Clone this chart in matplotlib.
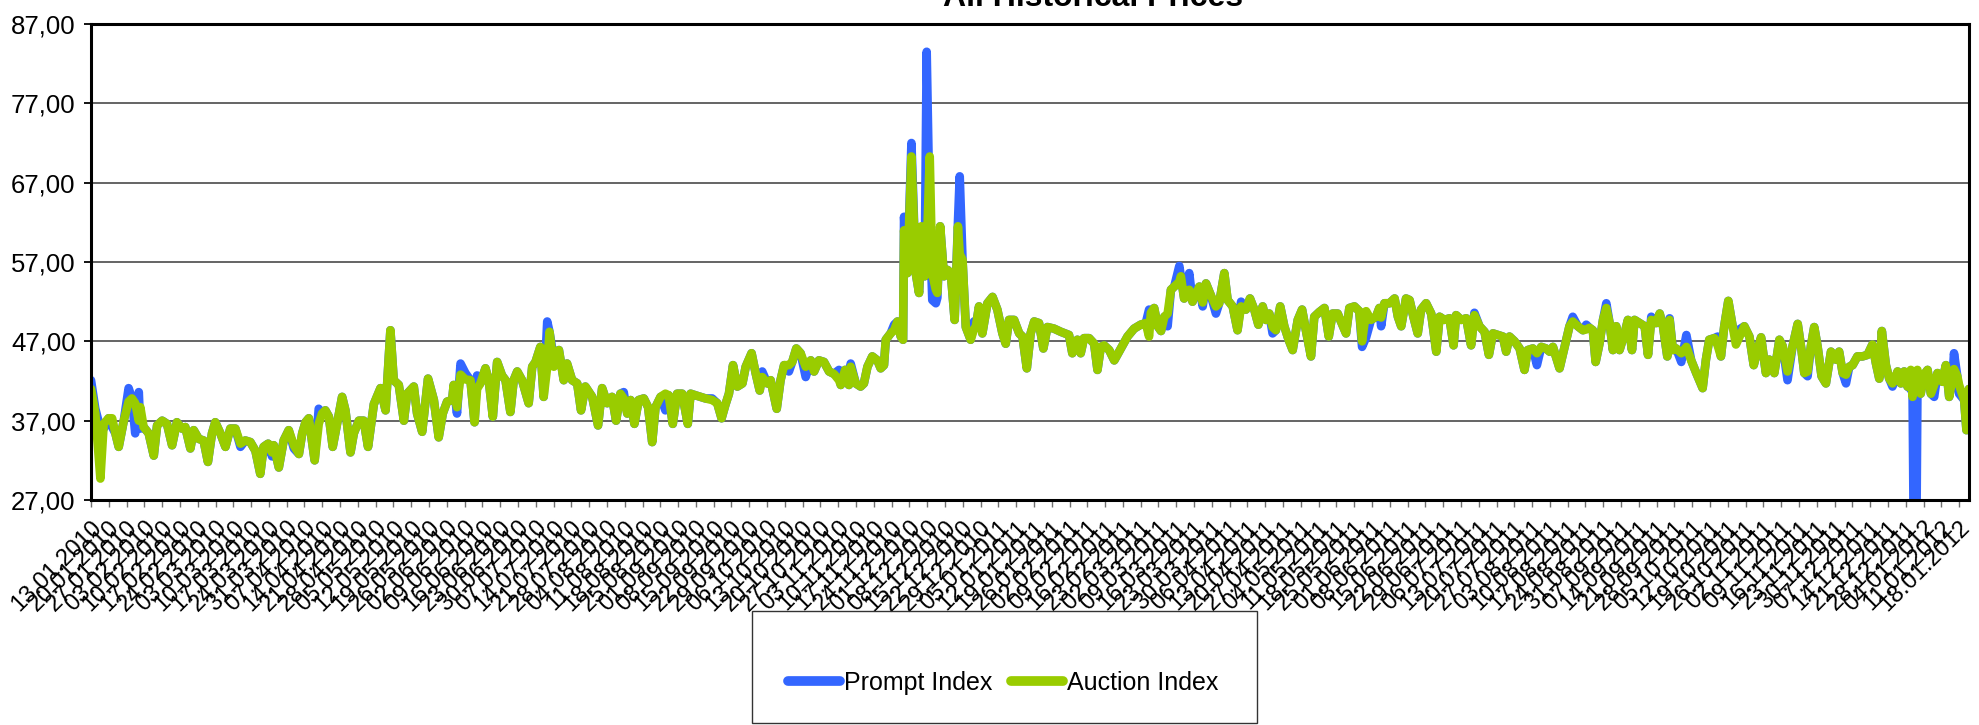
import matplotlib
matplotlib.use("Agg")
import matplotlib.pyplot as plt
import numpy as np
import pandas as pd
from matplotlib.patches import Rectangle

plt.rcParams['font.family'] = ['Liberation Sans', 'DejaVu Sans']

# ---------------- data ----------------
start_date = "2010-01-13"
# observation day (days since 13.01.2010)
obs_day = [
    # Jan - May 2010
    0, 1.7, 3.7, 5.0, 6.9, 8.3, 9.6, 10.9, 12.9, 14.8,
    16.1, 17.4, 18.8, 19.4, 20.7, 22.7, 24.7, 26.0, 28.0, 29.9,
    31.9, 33.8, 35.8, 37.1, 39.1, 40.4, 42.4, 44.3, 46.0, 47.6,
    48.9, 50.9, 52.9, 54.8, 56.8, 58.8, 60.7, 62.7, 64.7, 66.6,
    67.9, 69.7, 71.2, 71.9, 73.9, 75.8, 77.8, 79.8, 81.8, 83.1,
    84.4, 85.7, 88.0, 89.6, 90.9, 92.2, 93.6, 95.1, 96.8, 98.8,
    100.1, 102.1, 103.4, 105.4, 107.3, 109.0, 111.3, 113.9, 115.9, 117.8,
    119.1, 121.1, 123.1, 124.4, 127.0,
    # May - Sep 2010
    128.3, 130.3, 132.6, 134.9, 136.8, 138.4, 140.1, 142.1, 142.7, 144.0,
    145.4, 147.3, 149.3, 150.9, 151.9, 153.2, 155.2, 156.5, 158.1, 159.8,
    161.7, 163.1, 165.0, 166.3, 167.7, 169.6, 172.2, 173.6, 174.9, 176.8,
    178.1, 179.5, 180.4, 182.1, 184.1, 186.0, 187.3, 189.3, 191.3, 192.8,
    194.5, 197.2, 199.5, 201.1, 203.1, 205.0, 206.6, 208.3, 209.6, 211.0,
    212.3, 213.8, 215.5, 217.5, 219.2, 220.8, 222.1, 224.1, 226.0, 227.3,
    228.9, 230.6, 232.6, 234.8, 235.9, 237.8, 241.8, 244.4, 246.4, 248.1,
    249.6, 251.0, 252.6,
    # Sep - Nov 2010
    254.3, 256.3, 257.6, 259.9, 261.5, 263.1, 264.1, 266.1, 267.4, 269.8,
    271.3, 272.7, 274.6, 275.9, 277.5, 279.2, 281.2, 283.2, 284.5, 286.4,
    288.4, 290.4, 292.3, 294.3, 295.0, 296.7, 298.2,
    # Nov 2010 - Mar 2011
    298.9, 300.9, 302.8, 304.1, 305.5, 307.4, 309.4, 310.7, 312.0, 312.7,
    314.6, 316.0, 317.3, 318.6, 319.5, 319.9, 321.2, 322.8, 324.5, 325.8,
    326.7, 328.0, 328.8, 330.0, 331.0, 332.4, 333.0, 334.1, 335.6, 337.0,
    338.3, 339.8, 341.1, 341.8, 342.9, 344.2, 346.1, 347.4, 348.1, 349.4,
    350.7, 352.7, 354.7, 356.6, 358.6, 359.9, 361.2, 363.2, 365.2, 366.5,
    368.2, 369.7, 371.1, 373.0, 374.7, 376.3, 378.9, 381.6, 384.8, 386.1,
    388.1, 389.4, 390.7, 392.7, 394.7, 396.0, 397.3, 398.6, 400.6, 402.6,
    405.2, 407.8, 410.4, 413.0, 415.0, 416.3, 417.0,
    # Mar - Jun 2011
    418.3, 419.7, 421.0, 422.3, 423.6, 424.9, 426.2, 428.2, 428.8, 430.1,
    432.1, 433.4, 434.7, 436.1, 437.4, 438.7, 440.6, 442.6, 443.9, 445.9,
    447.2, 449.2, 451.1, 452.5, 454.4, 456.0, 457.7, 459.3, 461.0, 462.3,
    463.6, 464.9, 466.2, 467.9, 469.5, 471.2, 472.8, 474.8, 476.5, 478.0,
    480.0, 481.3, 483.3, 485.3, 487.0, 488.5, 490.5, 491.8, 493.8, 495.1,
    497.1, 499.0, 500.1, 501.7, 503.6, 505.6,
    # Jun - Oct 2011
    506.9, 507.6, 508.9, 510.9, 512.9, 514.2, 515.5, 517.4, 518.8, 520.3,
    522.0, 523.3, 525.3, 527.3, 529.3, 530.6, 532.5, 534.5, 536.1, 537.1,
    539.1, 541.1, 543.0, 544.3, 546.3, 548.3, 550.0, 551.6, 553.5, 555.5,
    556.8, 558.1, 560.1, 562.1, 564.0, 565.3, 567.3, 568.9, 570.6, 572.5,
    573.9, 575.2, 577.8, 579.8, 581.7, 583.0, 585.0, 587.0, 588.3, 589.6,
    590.9, 592.0, 593.5, 594.9, 596.2, 597.5, 598.8, 600.1, 601.4, 603.4,
    604.7, 606.3, 607.3, 609.3, 611.3, 612.6, 613.9, 615.8, 617.2, 618.5,
    620.2, 621.1, 622.4, 623.7, 625.7, 627.7, 629.6, 631.6,
    # Oct 2011 - Jan 2012
    634.1, 635.4, 636.7, 638.7, 640.0, 641.3, 642.6, 644.2, 645.9, 647.2,
    648.5, 650.5, 652.5, 654.2, 655.7, 657.1, 659.0, 660.3, 662.3, 664.3,
    665.6, 667.5, 669.5, 671.5, 673.0, 674.1, 675.4, 676.7, 678.0, 679.3,
    680.9, 682.6, 684.6, 686.5, 687.8, 689.2, 690.5, 691.8, 693.1, 695.0,
    697.0, 699.0, 700.9, 702.3, 703.6, 704.6, 706.2, 707.5, 708.8, 710.8,
    712.1, 713.4, 714.7, 716.0, 716.7, 717.7, 718.6, 719.9, 721.2, 722.6,
    723.9, 725.2, 726.5, 728.4, 729.8, 731.1, 732.4, 733.0, 734.3, 735.0,
    737.0, 737.9, 738.9,
]

prompt_index = [
    42.1, 38.5, 36.0, 36.0, 37.3, 36.2, 35.4, 33.7, 37.0, 41.1,
    39.8, 35.4, 40.6, 36.0, 36.2, 35.4, 32.6, 36.4, 37.0, 36.6,
    33.9, 36.8, 36.0, 36.2, 33.5, 35.8, 34.7, 34.5, 31.8, 35.4,
    36.8, 35.4, 33.7, 36.0, 36.0, 33.7, 34.5, 34.3, 33.2, 30.3,
    33.7, 34.1, 32.5, 33.9, 31.1, 34.5, 35.8, 33.5, 32.8, 35.4,
    36.8, 37.3, 32.0, 38.5, 37.9, 38.3, 37.5, 33.7, 36.6, 40.0,
    38.3, 33.0, 35.4, 37.0, 37.0, 33.7, 39.1, 41.1, 38.3, 48.4,
    42.1, 41.5, 37.0, 40.4, 41.3,
    37.9, 35.6, 42.3, 39.6, 34.9, 37.9, 39.4, 39.6, 41.5, 37.9,
    44.2, 43.0, 42.1, 36.8, 42.7, 41.7, 43.6, 42.1, 37.5, 44.4,
    42.7, 42.1, 38.1, 42.1, 43.2, 42.1, 39.2, 43.8, 44.4, 46.3,
    40.0, 49.5, 48.2, 44.8, 45.9, 42.1, 44.2, 42.1, 41.7, 38.3,
    41.3, 40.0, 36.4, 41.1, 39.2, 40.0, 37.0, 40.4, 40.6, 37.9,
    39.6, 36.6, 39.6, 39.8, 38.7, 34.3, 38.7, 40.0, 38.3, 40.2,
    36.6, 40.4, 40.4, 36.6, 40.4, 40.2, 39.8, 39.8, 39.2, 37.3,
    39.0, 40.4, 44.0,
    41.3, 41.7, 43.8, 45.5, 43.0, 40.8, 43.2, 41.7, 42.1, 38.5,
    42.1, 44.0, 43.2, 44.4, 46.1, 45.5, 42.5, 44.6, 43.2, 44.6,
    44.4, 43.2, 42.9, 43.4, 41.5, 43.4, 41.5,
    44.2, 41.7, 41.3, 41.7, 43.8, 45.1, 44.6, 43.6, 44.0, 47.2,
    48.0, 49.1, 49.5, 47.6, 47.2, 62.7, 55.6, 72.0, 55.6, 53.1,
    58.5, 55.2, 83.5, 62.0, 52.2, 51.8, 52.5, 61.5, 55.2, 56.0,
    55.6, 49.7, 62.0, 67.8, 57.3, 48.8, 47.2, 49.5, 48.8, 51.4,
    48.0, 51.8, 52.6, 51.0, 48.0, 46.7, 49.7, 49.7, 48.0, 47.6,
    43.6, 48.0, 49.5, 49.3, 46.1, 48.8, 48.6, 48.2, 47.8, 45.5,
    47.2, 45.5, 47.4, 47.4, 46.7, 43.4, 46.3, 46.5, 45.9, 44.6,
    46.1, 47.6, 48.6, 49.1, 49.3, 51.0, 50.6,
    51.2, 48.9, 48.3, 50.1, 48.9, 53.5, 53.9, 56.5, 55.2, 52.4,
    55.6, 52.0, 53.0, 53.9, 51.4, 54.3, 52.8, 50.5, 51.8, 55.6,
    52.2, 51.4, 48.4, 52.0, 51.0, 52.4, 51.0, 49.1, 51.4, 49.7,
    50.5, 48.0, 48.4, 51.4, 48.9, 47.2, 45.9, 49.7, 51.0, 48.4,
    45.1, 50.1, 50.7, 51.2, 47.6, 50.5, 50.5, 49.5, 48.0, 51.2,
    51.4, 50.8, 46.3, 47.5, 49.7, 50.1,
    51.2, 48.9, 51.8, 51.8, 52.4, 50.1, 48.9, 52.4, 52.2, 50.1,
    48.0, 51.0, 51.8, 50.5, 45.7, 50.1, 49.7, 49.9, 46.5, 50.3,
    49.7, 49.9, 46.5, 50.6, 48.9, 48.2, 45.3, 48.0, 47.8, 47.6,
    45.7, 47.6, 47.0, 46.1, 43.4, 45.9, 46.1, 44.0, 46.3, 46.1,
    45.7, 46.3, 43.6, 46.3, 48.9, 50.1, 48.9, 48.4, 49.1, 48.7,
    48.4, 44.4, 46.7, 49.7, 51.8, 49.3, 45.9, 48.9, 45.9, 48.0,
    49.7, 45.9, 49.7, 49.3, 48.9, 45.3, 50.1, 49.3, 50.5, 48.9,
    45.1, 49.9, 45.9, 46.1, 44.4, 47.8, 44.6, 43.0,
    41.1, 44.7, 47.2, 47.4, 47.6, 45.1, 48.9, 52.1, 48.9, 47.5,
    48.5, 48.9, 47.6, 44.0, 45.9, 47.5, 43.0, 44.7, 43.0, 47.2,
    46.4, 42.1, 46.4, 49.2, 45.9, 43.0, 42.6, 46.4, 48.8, 46.4,
    42.6, 41.7, 45.7, 44.7, 45.7, 43.0, 41.7, 43.8, 44.0, 45.1,
    45.1, 45.3, 46.6, 44.2, 42.3, 48.3, 44.0, 42.3, 41.3, 43.2,
    41.7, 43.2, 41.3, 41.0, 40.5, 0.0, 40.4, 40.4, 42.8, 43.4,
    40.4, 40.0, 43.0, 41.9, 44.0, 40.0, 42.3, 45.5, 42.6, 40.4,
    39.6, 35.8, 41.0,
]

auction_index = [
    41.0, 37.9, 29.7, 36.6, 37.3, 37.3, 35.4, 33.7, 37.0, 39.4,
    39.8, 39.2, 37.0, 38.7, 36.2, 35.4, 32.6, 36.4, 37.0, 36.6,
    33.9, 36.8, 36.0, 36.2, 33.5, 35.8, 34.7, 34.5, 31.8, 35.4,
    36.8, 35.4, 33.7, 36.0, 36.0, 34.1, 34.5, 34.3, 33.2, 30.3,
    33.7, 34.1, 33.0, 33.9, 31.1, 34.5, 35.8, 33.9, 32.8, 35.4,
    36.8, 37.3, 32.0, 36.6, 37.9, 38.3, 37.5, 33.7, 36.6, 40.0,
    38.3, 33.0, 35.4, 37.0, 37.0, 33.7, 39.1, 41.1, 38.3, 48.4,
    42.1, 41.5, 37.0, 40.4, 41.3,
    37.9, 35.6, 42.3, 39.6, 34.9, 37.9, 39.4, 39.6, 41.5, 38.7,
    42.8, 42.2, 42.1, 36.8, 41.0, 41.7, 43.6, 42.1, 37.5, 44.4,
    42.7, 42.1, 38.1, 42.1, 43.2, 42.1, 39.2, 43.8, 44.4, 46.3,
    40.0, 43.8, 48.2, 43.8, 45.9, 42.1, 44.2, 42.1, 41.7, 38.3,
    41.3, 40.0, 36.4, 41.1, 39.2, 40.0, 37.0, 40.4, 39.8, 37.9,
    39.6, 36.6, 39.6, 39.8, 38.7, 34.3, 38.7, 40.0, 40.4, 40.2,
    36.6, 40.4, 40.4, 36.6, 40.4, 40.2, 39.8, 39.6, 39.2, 37.3,
    39.0, 40.4, 44.0,
    41.3, 41.7, 43.8, 45.5, 43.0, 40.8, 42.5, 41.7, 42.1, 38.5,
    42.1, 44.0, 44.0, 44.4, 46.1, 45.5, 43.8, 44.6, 43.2, 44.6,
    44.4, 43.2, 42.9, 42.1, 41.5, 43.4, 41.5,
    43.8, 41.7, 41.3, 41.7, 43.8, 45.1, 44.6, 43.6, 44.0, 47.2,
    48.0, 48.4, 49.5, 47.6, 47.2, 61.0, 55.6, 70.3, 55.6, 53.1,
    61.5, 55.2, 58.0, 70.3, 55.5, 53.5, 53.1, 61.5, 55.2, 56.0,
    55.6, 49.7, 61.5, 58.0, 57.3, 48.8, 47.2, 48.5, 48.8, 51.4,
    48.0, 51.8, 52.6, 51.0, 48.0, 46.7, 49.7, 49.7, 48.0, 47.6,
    43.6, 48.0, 49.5, 49.3, 46.1, 48.8, 48.6, 48.2, 47.8, 45.5,
    47.2, 45.5, 47.4, 47.4, 46.7, 43.4, 46.3, 46.5, 45.9, 44.6,
    46.1, 47.6, 48.6, 49.1, 49.3, 47.6, 50.6,
    51.2, 48.9, 48.3, 50.1, 50.5, 53.5, 53.9, 54.5, 55.2, 52.4,
    53.5, 52.0, 53.0, 53.9, 51.9, 54.3, 52.8, 51.4, 51.8, 55.6,
    52.2, 51.4, 48.4, 51.4, 51.0, 52.4, 51.0, 49.1, 51.4, 49.7,
    50.5, 48.8, 48.4, 51.4, 48.9, 47.2, 45.9, 49.7, 51.0, 48.4,
    45.1, 50.1, 50.7, 51.2, 47.6, 50.5, 50.5, 49.5, 48.0, 51.2,
    51.4, 50.8, 47.0, 50.8, 49.7, 50.1,
    51.2, 50.0, 51.8, 51.8, 52.4, 50.1, 48.9, 52.4, 52.2, 50.1,
    48.0, 51.0, 51.8, 50.5, 45.7, 50.1, 49.7, 49.9, 46.5, 50.3,
    49.7, 49.9, 46.5, 50.3, 48.9, 48.2, 45.3, 48.0, 47.8, 47.6,
    45.7, 47.6, 47.0, 46.1, 43.4, 45.9, 46.1, 45.5, 46.3, 46.1,
    45.7, 46.3, 43.6, 46.3, 48.9, 49.5, 48.9, 48.4, 48.5, 48.7,
    48.4, 44.4, 46.7, 49.7, 51.2, 49.3, 45.9, 48.9, 45.9, 48.0,
    49.7, 45.9, 49.7, 49.3, 48.9, 45.3, 49.7, 49.3, 50.5, 48.9,
    45.1, 49.7, 45.9, 46.1, 45.5, 46.3, 44.6, 43.0,
    41.1, 44.7, 47.2, 47.4, 46.5, 45.1, 48.9, 52.1, 48.9, 46.6,
    47.5, 48.9, 47.6, 44.0, 45.9, 47.5, 43.0, 44.7, 43.0, 47.2,
    46.4, 43.2, 46.4, 49.2, 45.9, 43.0, 43.2, 46.4, 48.8, 46.4,
    42.6, 41.7, 45.7, 44.7, 45.7, 43.0, 42.8, 43.8, 44.0, 45.1,
    45.1, 45.3, 46.6, 44.2, 42.3, 48.3, 44.0, 42.3, 41.7, 43.2,
    41.7, 43.2, 41.3, 43.4, 40.0, 42.5, 43.4, 40.4, 42.8, 43.4,
    40.4, 41.5, 43.0, 41.9, 44.0, 40.0, 42.3, 43.5, 42.6, 41.5,
    39.6, 35.8, 41.0,
]

assert len(obs_day) == len(prompt_index) == len(auction_index)

series_names = ["Prompt Index", "Auction Index"]
series_colors = ["#3366FF", "#99CC00"]
title_text = "All Historical Prices"
y_ticks = [27, 37, 47, 57, 67, 77, 87]
tick_dates = pd.date_range(start_date, "2012-01-18", freq="7D")
tick_labels = [d.strftime("%d.%m.%Y") for d in tick_dates]
tick_days = [(d - pd.Timestamp(start_date)).days for d in tick_dates]
x_end_day = 738.9

# ---------------- figure ----------------
W, H = 1979, 725
fig = plt.figure(figsize=(W / 100, H / 100), dpi=100)
L, R, T, B = 91, 1969, 24, 500
ax = fig.add_axes([L / W, 1 - B / H, (R - L) / W, (B - T) / H])

x = np.array(obs_day)
ax.plot(x, prompt_index, color=series_colors[0], lw=6.2, label=series_names[0],
        solid_joinstyle="round", solid_capstyle="round", zorder=3)
ax.plot(x, auction_index, color=series_colors[1], lw=6.2, label=series_names[1],
        solid_joinstyle="round", solid_capstyle="round", zorder=4)

ax.set_xlim(0, x_end_day)
ax.set_ylim(27, 87)
ax.set_yticks(y_ticks)
ax.set_yticklabels([f"{v:.2f}".replace(".", ",") for v in y_ticks], fontsize=18.5)
ax.yaxis.grid(True, color="#4a4a4a", lw=1.2, zorder=1)
ax.set_axisbelow(True)
ax.tick_params(axis="y", direction="out", length=5, width=1.3, color="black", pad=6)

ax.set_xticks(tick_days)
ax.set_xticklabels(tick_labels, rotation=45, ha="right", va="top",
                   rotation_mode="anchor", fontsize=17)
ax.tick_params(axis="x", direction="out", length=5, width=1.0, color="#707070", pad=7)

for s in ax.spines.values():
    s.set_color("black")
    s.set_linewidth(2.2)
    s.set_zorder(5)

fig.text(1093 / W, 1 - 6 / H, title_text, ha="center", va="baseline",
         fontsize=23, fontweight="bold")

# legend box
fig.patches.append(Rectangle((752 / W, 1 - 723 / H), (1257 - 752) / W, (723 - 611) / H,
                             transform=fig.transFigure, fill=False, edgecolor="#333333",
                             lw=1.0))
leg = fig.legend(loc="center", bbox_to_anchor=(1003 / W, 1 - 683 / H), ncol=2,
                 frameon=False, fontsize=18, handlelength=2.1, handletextpad=0.15,
                 columnspacing=0.75)
for line in leg.get_lines():
    line.set_linewidth(7)
    line.set_solid_capstyle("round")

fig.savefig("out.png", dpi=100)
